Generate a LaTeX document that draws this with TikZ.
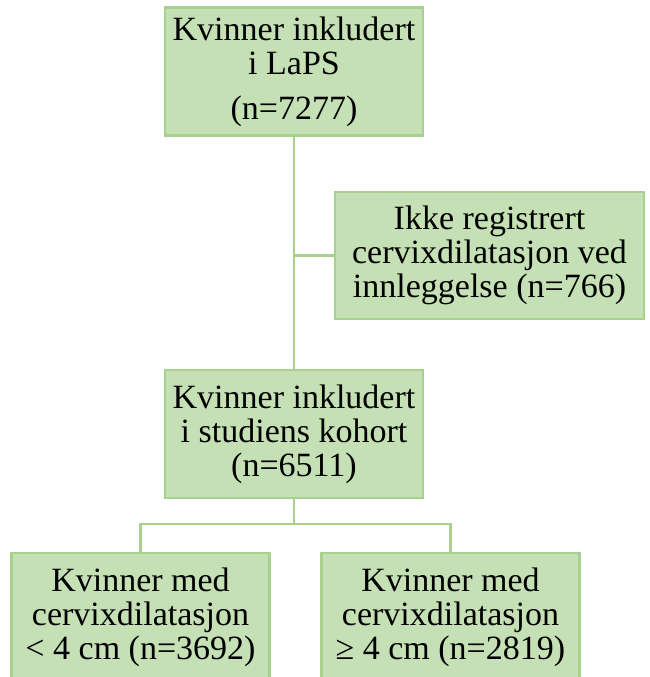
\documentclass[tikz,border=0pt]{standalone}
\usepackage{fontspec}
\setmainfont{Liberation Serif}
\usetikzlibrary{positioning}

\definecolor{boxfill}{HTML}{C5E0B4}
\definecolor{boxline}{HTML}{A9D18E}

\begin{document}
\begin{tikzpicture}[
    x=1pt, y=-1pt,
    flow box/.style={rectangle, draw=boxline, fill=boxfill, line width=2.5pt, inner sep=0pt, align=center, font=\fontsize{34}{34}\selectfont},
    wide box/.style={flow box, minimum width=258pt, minimum height=128pt},
    link/.style={draw=boxline, line width=2.5pt}
]
    \useasboundingbox (0,0) rectangle (649,677);
    \clip (0,0) rectangle (649,677);

    % Step 1: all women in the registry
    \node[wide box] (laps) at (294, 71.5) {Kvinner inkludert\\ i LaPS\\[11pt] (n=7277)};

    % Excluded women
    \node[flow box, minimum width=309pt, minimum height=127pt] (excl) at (489.5, 255.5) {Ikke registrert\\ cervixdilatasjon ved\\ innleggelse (n=766)};

    % Step 2: study cohort
    \node[wide box] (cohort) at (294, 434) {Kvinner inkludert\\ i studiens kohort\\ (n=6511)};

    % Step 3: split by dilatation
    \node[wide box] (below4) at (140.5, 617) {Kvinner med\\ cervixdilatasjon\\ < 4 cm (n=3692)};
    \node[wide box] (above4) at (450.5, 617) {Kvinner med\\ cervixdilatasjon\\ ≥ 4 cm (n=2819)};

    \coordinate (split) at (294, 524);

    \draw[link] (laps) -- (cohort);
    \draw[link] (laps |- excl) -- (excl);
    \draw[link] (cohort) -- (split);
    \draw[link] (below4) |- (split) -| (above4);
\end{tikzpicture}
\end{document}
